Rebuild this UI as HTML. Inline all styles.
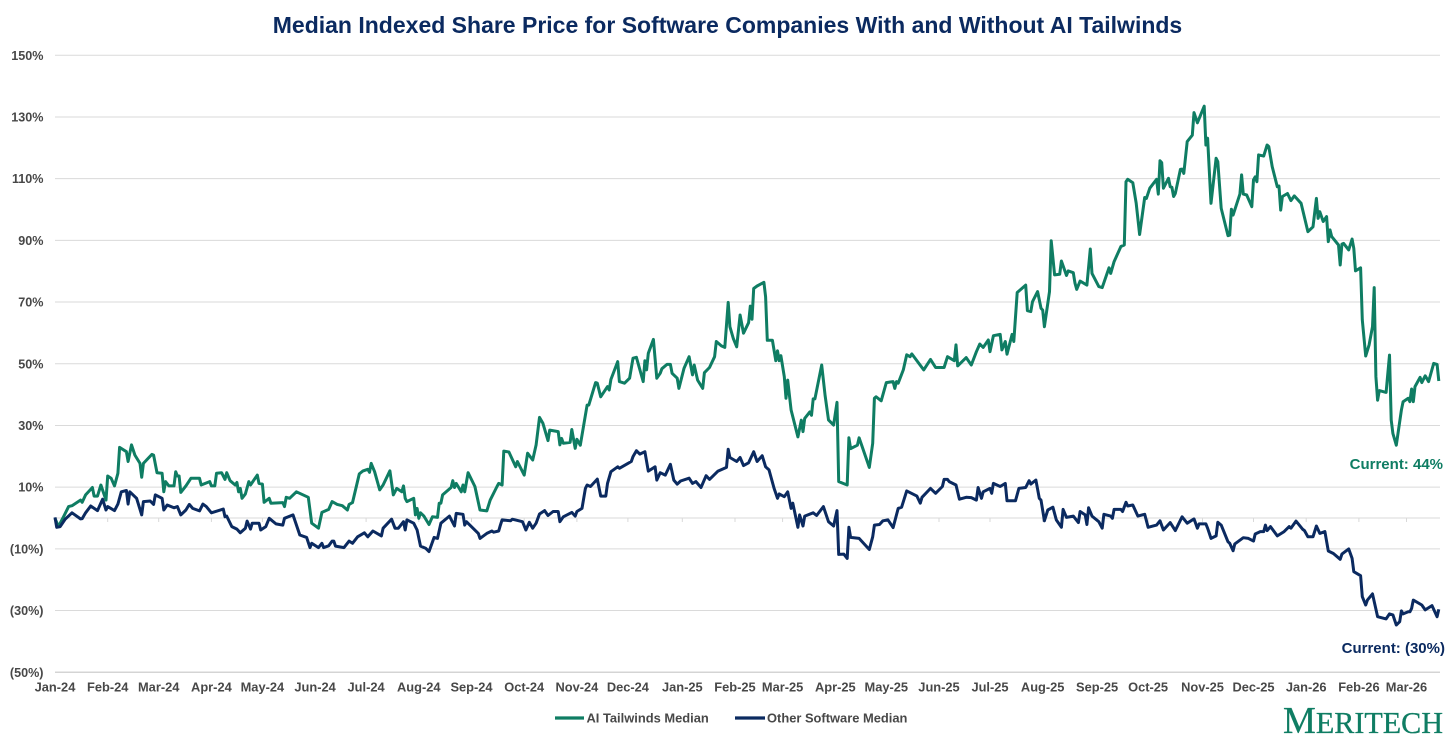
<!DOCTYPE html>
<html lang="en">
<head>
<meta charset="utf-8">
<title>Median Indexed Share Price for Software Companies</title>
<style>
html,body{margin:0;padding:0;background:#fff;width:1456px;height:735px;overflow:hidden}
svg{display:block}
text{font-family:"Liberation Sans",Arial,sans-serif}
</style>
</head>
<body>
<svg id="chart" xmlns="http://www.w3.org/2000/svg" width="1456" height="735" viewBox="0 0 1456 735">
<rect width="1456" height="735" fill="#ffffff"/>
<text x="727.5" y="33" text-anchor="middle" font-size="23" font-weight="700" fill="#0b2a60">Median Indexed Share Price for Software Companies With and Without AI Tailwinds</text>
<g id="grid"></g>
<g id="yaxis"></g>
<g id="xaxis"></g>
<g id="series"></g>
<text x="1443" y="469" text-anchor="end" font-size="15" font-weight="700" fill="#0f7d63">Current: 44%</text>
<text x="1445" y="653" text-anchor="end" font-size="15" font-weight="700" fill="#0b2a60">Current: (30%)</text>
<g>
<line x1="555" x2="584" y1="718" y2="718" stroke="#0f7d63" stroke-width="3.2"/>
<text x="586.5" y="722.5" font-size="12.9" font-weight="700" fill="#484848">AI Tailwinds Median</text>
<line x1="735" x2="765" y1="718" y2="718" stroke="#0b2a60" stroke-width="3.2"/>
<text x="767" y="722.5" font-size="12.9" font-weight="700" fill="#484848">Other Software Median</text>
</g>
<text x="1283" y="733" textLength="160" lengthAdjust="spacingAndGlyphs" fill="#0f7d63" stroke="#0f7d63" stroke-width="0.3" style="font-family:'Liberation Serif',serif"><tspan font-size="38">M</tspan><tspan font-size="31">ERITECH</tspan></text>
</svg>
<script>
const yTickValues = [150,130,110,90,70,50,30,10,-10,-30,-50];
const monthLabels = ["Jan-24","Feb-24","Mar-24","Apr-24","May-24","Jun-24","Jul-24","Aug-24","Sep-24","Oct-24","Nov-24","Dec-24","Jan-25","Feb-25","Mar-25","Apr-25","May-25","Jun-25","Jul-25","Aug-25","Sep-25","Oct-25","Nov-25","Dec-25","Jan-26","Feb-26","Mar-26"];
const monthDays = [0,31,61,92,122,153,183,214,245,276,307,337,369,400,428,459,489,520,550,581,613,643,675,705,736,767,795];

const aiDays = [0,2,5,8,10,15,16,18,22,23,25,27,30,31,33,35,37,38,42,43,45,47,50,51,52,57,58,60,63,64,65,67,70,71,72,73,74,77,80,85,86,91,92,94,95,98,100,101,103,106,107,108,109,110,112,114,115,119,120,122,123,126,127,134,135,136,138,142,149,151,155,157,161,163,166,169,172,173,175,179,181,184,185,186,188,191,193,197,199,201,204,205,206,207,211,212,213,214,215,217,220,222,225,226,227,228,233,234,235,236,239,240,241,243,247,250,254,
256,260,261,263,264,267,271,272,276,278,281,283,285,287,290,291,296,297,298,299,303,304,306,307,309,313,314,318,319,321,325,326,327,331,332,335,338,340,342,346,347,348,349,352,354,356,357,360,362,363,366,367,370,373,375,376,378,381,382,385,388,389,392,394,396,397,399,401,403,405,408,409,410,411,413,417,418,419,422,424,425,426,427,429,430,431,433,437,439,440,441,444,445,446,447,451,453,455,458,460,461,466,467,468,472,473,479,481,482,483,486,489,493,494,495,496,499,501,503,504,511,515,518,523,525,529,530,531,536,539,542,544,
546,549,550,552,556,557,559,560,563,564,566,571,572,574,575,578,580,581,582,585,586,588,591,592,595,596,599,600,601,603,607,609,610,614,616,620,621,623,627,629,630,631,634,636,638,641,642,644,648,649,650,651,652,655,656,657,658,659,662,663,664,666,669,670,672,676,677,678,680,683,684,686,690,691,692,693,697,698,699,701,704,705,706,707,708,711,713,714,716,719,720,721,722,725,727,729,733,737,740,742,743,744,746,748,749,750,751,755,756,757,758,761,763,764,765,768,769,771,773,775,776,777,778,779,783,785,786,787,789,792,793,796,797,798,799,800,803,804,806,808,811,813,814];
const aiValues = [-0.1,-2.8,0.4,3.7,4.0,5.8,5.1,7.5,9.9,7.1,7.1,10.7,5.8,13.6,12.9,10.4,14.5,22.9,21.5,18.3,23.7,20.4,17.7,13.2,17.7,20.6,20.4,14.7,14.5,8.5,11.8,10.4,10.4,15.0,13.6,13.6,8.3,10.4,12.9,12.9,10.7,11.8,10.4,10.4,14.5,14.7,12.5,14.7,12.1,10.7,11.5,8.5,9.6,6.4,7.8,11.8,10.7,13.9,11.2,11.0,5.1,6.4,4.8,5.0,3.7,6.7,6.4,8.5,6.7,-1.7,-3.3,1.8,2.8,5.3,4.4,4.0,2.6,4.4,5.0,14.3,15.2,15.8,14.8,17.7,15.0,9.1,10.7,15.3,7.5,9.6,8.5,10.4,6.4,5.3,6.4,1.0,3.1,-0.1,1.7,0.6,-2.1,0.4,0.2,4.8,4.8,7.5,9.9,12.1,9.9,11.2,8.5,10.7,8.5,14.7,10.2,2.6,2.3,
5.8,10.2,11.2,10.7,21.7,21.4,16.6,18.3,13.9,21.0,18.8,23.7,32.6,30.7,25.1,28.5,28.0,23.7,25.8,24.2,24.5,28.7,22.6,25.5,23.6,36.6,36.6,43.9,43.7,39.3,42.6,41.5,44.9,50.7,44.2,43.7,45.3,51.8,52.1,44.2,51.0,48.0,53.4,57.9,45.3,46.9,48.4,49.8,49.8,46.9,45.3,42.0,48.5,52.3,46.4,49.6,44.7,42.0,47.1,48.8,52.3,57.2,55.8,55.3,69.9,62.0,58.2,55.5,65.8,59.9,63.3,68.7,64.4,74.4,75.2,76.4,71.7,57.6,57.6,51.0,54.2,51.0,52.6,45.8,38.8,44.7,35.0,26.3,31.7,28.0,32.3,34.4,33.3,38.6,38.6,49.6,39.7,31.8,30.1,37.5,11.8,10.7,26.0,22.5,23.6,26.0,16.4,24.2,38.8,39.3,38.0,43.9,44.2,42.0,44.2,43.7,48.0,52.9,52.3,53.2,48.0,51.4,48.8,48.8,52.3,51.0,56.1,49.3,52.0,49.6,53.9,56.4,
55.3,57.7,53.9,59.1,59.5,54.5,57.2,53.1,59.5,57.2,73.1,75.5,67.2,66.9,70.1,73.4,68.0,67.4,62.0,73.4,89.9,78.8,79.0,83.3,78.6,80.1,79.5,76.1,74.1,76.8,75.5,87.2,79.3,75.0,74.7,81.1,79.3,83.1,88.0,88.5,109.0,109.8,108.7,102.0,91.9,103.9,103.6,106.9,109.8,105.0,115.8,115.2,106.9,110.1,107.4,107.2,104.2,105.2,113.0,113.1,111.7,122.0,124.1,131.4,128.1,133.5,120.9,123.1,102.0,116.6,115.5,100.4,91.5,91.7,100.1,98.2,105.0,111.2,105.0,104.7,100.9,109.6,110.6,109.0,117.7,117.3,120.9,120.4,113.9,107.4,107.6,99.8,104.2,105.2,102.9,104.4,102.0,92.8,94.4,103.6,97.1,99.3,96.1,97.7,89.6,93.4,91.2,88.5,82.0,88.8,89.0,86.9,90.4,87.4,80.1,81.1,64.2,52.5,56.1,62.0,74.7,45.8,38.2,41.3,40.7,52.8,31.8,27.4,23.6,35.0,37.7,38.8,37.7,41.8,37.7,42.6,45.6,43.9,46.1,44.2,50.1,49.8,44.4];

const otherDays = [0,1,3,6,10,15,16,18,21,25,28,30,31,35,37,39,42,43,44,48,51,52,56,58,59,63,64,66,70,72,74,77,79,81,85,87,89,92,99,100,101,104,107,109,112,113,115,116,120,121,124,126,130,134,135,140,144,148,150,151,155,157,158,161,163,164,165,170,173,175,178,182,184,187,192,193,198,200,202,205,206,207,211,213,215,218,220,223,225,227,232,235,236,240,241,242,249,250,254,257,258,261,262,
263,268,269,275,277,279,281,283,285,288,290,293,296,297,299,304,306,307,310,312,313,315,319,321,324,325,327,331,332,337,339,340,342,344,347,349,353,354,356,359,362,364,366,368,373,375,377,380,383,385,390,395,396,397,401,403,405,408,411,413,416,418,420,423,425,426,429,431,433,434,437,438,440,441,446,448,452,455,458,460,461,464,466,467,468,473,479,481,482,485,487,490,493,496,498,501,507,509,510,515,518,522,523,525,526,530,532,536,539,
542,543,545,546,550,551,552,556,559,560,565,567,571,573,574,577,579,580,582,584,587,589,592,593,595,599,602,603,606,607,608,610,614,616,617,621,622,623,627,628,630,631,634,637,641,643,648,650,652,656,659,663,666,670,672,673,677,678,680,683,684,686,690,691,693,694,699,702,705,706,709,711,712,713,715,719,723,726,727,730,734,735,737,740,742,744,747,749,752,756,757,761,763,764,768,769,771,772,775,778,783,785,787,789,791,792,793,796,797,798,799,804,806,810,813,814];
const otherValues = [0.2,-3.0,-2.8,-0.4,1.7,-0.3,-0.2,1.7,3.9,2.4,6.1,2.6,3.7,2.4,4.5,8.5,8.9,4.5,8.5,6.4,1.0,5.3,5.5,4.4,7.5,6.4,2.6,4.2,3.3,3.7,1.0,2.6,4.4,3.1,2.3,4.5,3.7,1.7,2.9,0.4,0.6,-2.8,-3.6,-4.8,-3.3,-1.0,-3.6,-1.7,-1.7,-3.9,-2.8,-0.1,-1.9,-2.3,-0.1,1.0,-5.5,-6.3,-9.6,-8.2,-9.6,-8.2,-9.6,-9.0,-7.5,-7.5,-9.1,-9.6,-7.5,-8.2,-6.1,-4.8,-6.1,-4.2,-5.8,-3.3,-0.4,-3.3,-3.3,-1.2,-3.9,-0.6,-1.7,-3.9,-9.1,-9.8,-10.9,-6.3,-6.6,-1.7,0.6,-2.6,1.5,1.2,-2.3,-1.2,-5.0,-6.6,-5.0,-4.2,-4.6,-4.2,-2.3,
-0.6,-0.9,-0.4,-1.2,-3.9,-1.4,-3.3,-1.7,1.3,2.4,0.8,2.1,2.1,-1.2,0.4,1.8,0.6,2.1,3.1,9.6,10.7,10.2,12.6,7.1,7.1,11.2,15.0,16.6,16.1,17.7,18.3,19.9,21.8,20.7,21.5,15.2,16.6,12.3,14.7,13.9,17.4,12.3,11.0,12.0,12.9,11.2,11.8,9.9,13.7,12.5,15.2,16.4,22.3,19.6,18.3,19.6,17.0,17.9,21.5,18.3,20.2,16.6,15.6,9.6,6.4,7.8,6.9,8.5,3.1,4.8,-3.0,1.0,-2.6,0.6,1.7,0.8,3.7,-1.2,-2.6,2.4,-11.8,-11.7,-13.1,-3.0,-6.3,-6.6,-10.2,-6.1,-2.3,-2.1,-0.9,-0.6,-3.1,3.1,3.5,8.8,7.1,4.8,6.7,9.6,8.0,10.2,12.5,12.5,11.8,10.7,6.1,6.7,6.6,
5.8,9.9,6.4,8.5,9.6,8.0,11.2,10.2,11.2,5.6,5.6,9.6,9.9,12.1,11.0,12.3,6.4,5.8,-0.9,2.6,3.5,-0.6,-3.0,2.8,0.2,0.6,-1.5,2.1,1.0,-2.1,3.3,0.6,-1.2,-3.3,1.2,0.6,-0.1,2.8,2.8,2.1,5.1,3.9,4.2,0.6,1.2,-3.0,-2.3,-0.9,-3.9,-1.5,-4.1,0.4,-1.7,-0.3,-3.3,-1.9,-1.9,-3.3,-6.6,-5.8,-1.4,-2.3,-7.7,-8.2,-10.6,-8.4,-6.4,-6.6,-7.5,-5.2,-4.4,-4.4,-2.3,-4.1,-2.8,-5.8,-4.4,-2.8,-3.3,-1.0,-3.7,-4.1,-6.1,-6.1,-2.6,-5.0,-4.4,-10.7,-11.5,-13.4,-11.7,-10.0,-13.1,-17.4,-18.7,-25.5,-28.2,-26.6,-24.6,-32.0,-32.7,-31.1,-31.4,-34.7,-33.6,-30.1,-31.1,-30.4,-30.4,-29.3,-26.6,-28.2,-29.8,-28.4,-32.0,-29.6];

const NS = "http://www.w3.org/2000/svg";
const xScale = d => 55 + d * 1.7;
const yScale = v => 518 - v * 3.085;
const yLabel = v => v < 0 ? "(" + Math.abs(v) + "%)" : v + "%";

const grid = document.getElementById("grid");
const yaxis = document.getElementById("yaxis");
const xaxis = document.getElementById("xaxis");
const series = document.getElementById("series");

yTickValues.forEach(v => {
  const line = document.createElementNS(NS, "line");
  
  
  line.setAttribute("x1", 55);
  line.setAttribute("x2", 1440);
  line.setAttribute("y1", yScale(v));
  line.setAttribute("y2", yScale(v));
  line.setAttribute("stroke", v === -50 ? "#d4d4d4" : "#dadada");
  line.setAttribute("stroke-width", v === -50 ? 1.5 : 1);
  grid.appendChild(line);

  const label = document.createElementNS(NS, "text");
  
  
  label.setAttribute("x", 43.5);
  label.setAttribute("y", yScale(v) + 4.5);
  label.setAttribute("text-anchor", "end");
  label.setAttribute("font-size", "12.6");
  label.setAttribute("font-weight", "700");
  label.setAttribute("fill", "#484848");
  label.textContent = yLabel(v);
  yaxis.appendChild(label);
});

const zeroLine = document.createElementNS(NS, "line");


zeroLine.setAttribute("x1", 55);
zeroLine.setAttribute("x2", 1440);
zeroLine.setAttribute("y1", yScale(0));
zeroLine.setAttribute("y2", yScale(0));
zeroLine.setAttribute("stroke", "#d9d9d9");
xaxis.appendChild(zeroLine);

monthLabels.forEach((m, i) => {
  const tick = document.createElementNS(NS, "line");
  
  
  tick.setAttribute("x1", xScale(monthDays[i]));
  tick.setAttribute("x2", xScale(monthDays[i]));
  tick.setAttribute("y1", yScale(0));
  tick.setAttribute("y2", yScale(0) + 4);
  tick.setAttribute("stroke", "#d9d9d9");
  xaxis.appendChild(tick);

  const label = document.createElementNS(NS, "text");
  
  
  label.setAttribute("x", xScale(monthDays[i]));
  label.setAttribute("y", 691.5);
  label.setAttribute("text-anchor", "middle");
  label.setAttribute("font-size", "12.85");
  label.setAttribute("font-weight", "700");
  label.setAttribute("fill", "#484848");
  label.textContent = m;
  xaxis.appendChild(label);
});

function drawLine(days, values, color) {
  const path = document.createElementNS(NS, "polyline");
  path.setAttribute("points", days.map((d, i) => xScale(d).toFixed(1) + "," + yScale(values[i]).toFixed(1)).join(" "));
  path.setAttribute("fill", "none");
  path.setAttribute("stroke", color);
  path.setAttribute("stroke-width", "3");
  path.setAttribute("stroke-linejoin", "round");
  series.appendChild(path);
  return path;
}

const aiLine = drawLine(aiDays, aiValues, "#0f7d63");


const otherLine = drawLine(otherDays, otherValues, "#0b2a60");


</script>
</body>
</html>
